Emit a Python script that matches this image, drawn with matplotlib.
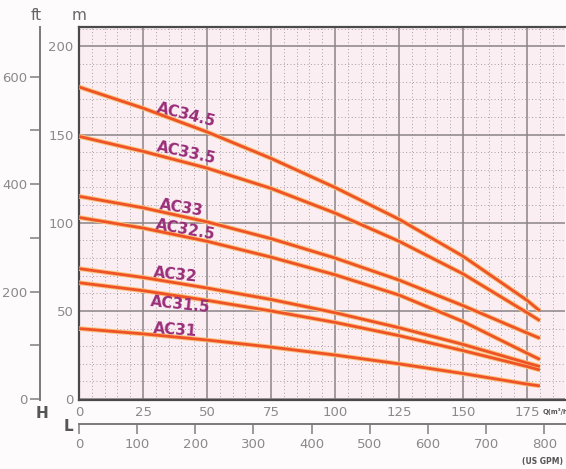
import matplotlib
matplotlib.use('Agg')
import matplotlib.pyplot as plt
from matplotlib.ticker import MultipleLocator, FixedLocator

# pump curves, flow Q (m3/h) vs head H (m)
flow = [0, 25, 50, 75, 100, 125, 150, 175, 180]
curves = {
    'AC34.5': [177, 165, 151.5, 136.5, 120, 102, 81, 56, 50],
    'AC33.5': [149, 140.5, 131, 119.5, 105.5, 89.5, 71, 49, 44.5],
    'AC33': [115, 108.5, 100.5, 91, 80, 67.5, 53, 37.5, 34.5],
    'AC32.5': [103, 97, 89.5, 80.5, 70.5, 59, 44, 26, 22.5],
    'AC32': [74, 69, 63, 56.5, 49, 40.5, 31, 20.5, 18.5],
    'AC31.5': [66, 61.5, 56, 50, 43.5, 36, 27.5, 18.5, 16.5],
    'AC31': [40, 37, 33.5, 29.5, 25, 20, 14.5, 8.5, 7.5],
}
# label position (Q, H) and angle for each curve
label_pos = {
    'AC34.5': (42, 161, -14),
    'AC33.5': (42, 139.5, -12),
    'AC33': (40, 108.5, -9),
    'AC32.5': (41.5, 96, -10),
    'AC32': (37.5, 70.5, -6),
    'AC31.5': (39.5, 53.5, -6),
    'AC31': (37.5, 39, -4),
}
m_ticks = [0, 50, 100, 150, 200]
q_ticks = [0, 25, 50, 75, 100, 125, 150, 175]
ft_ticks = [0, 200, 400, 600]
gpm_ticks = [0, 100, 200, 300, 400, 500, 600, 700, 800]

FT = 0.3048
GPM = 4.40287

fig = plt.figure(figsize=(5.66, 4.69), dpi=100)
fig.patch.set_facecolor('#fdfbfb')
ax = fig.add_axes([79/566, 1-400/469, 486/566, 373/469])
ax.set_facecolor('#faeef3')
ax.set_xlim(0, 189.8)
ax.set_ylim(-0.5, 211)

ax.xaxis.set_major_locator(FixedLocator(q_ticks))
ax.yaxis.set_major_locator(FixedLocator(m_ticks))
ax.xaxis.set_minor_locator(MultipleLocator(5))
ax.yaxis.set_minor_locator(MultipleLocator(10))
ax.grid(which='major', color='#8a8486', lw=1.1)
ax.grid(which='minor', color='#a89ea2', lw=0.7, ls=(0, (1, 2.5)))
ax.set_axisbelow(True)
ax.tick_params(which='both', length=0, colors='#8a8a8a', labelsize=9.5, pad=4)
for s in ['left', 'bottom', 'top']:
    ax.spines[s].set_color('#4a4a4a')
    ax.spines[s].set_linewidth(1.6)
ax.spines['right'].set_visible(False)

for name, h in curves.items():
    ax.plot(flow, h, color='#f8c27a', lw=3.4, solid_capstyle='butt', zorder=3)
    ax.plot(flow, h, color='#ef5226', lw=2.0, solid_capstyle='butt', zorder=4)
    qx, hy, rot = label_pos[name]
    ax.text(qx, hy, name, color='#9a2d78', fontsize=11, fontweight='bold',
            rotation=rot, ha='center', va='center', zorder=5)

# feet axis on the left
ft_ax = ax.secondary_yaxis(-0.08, functions=(lambda m: m / FT, lambda f: f * FT))
ft_ax.yaxis.set_major_locator(FixedLocator(ft_ticks))
ft_ax.yaxis.set_minor_locator(FixedLocator([100, 300, 500]))
ft_ax.tick_params(which='both', direction='out', length=7, width=1.2, colors='#8a8a8a',
                  labelsize=9.5, pad=2)
ft_ax.spines['left'].set_color('#7a7a7a')
ft_ax.spines['left'].set_linewidth(1.4)

# US GPM axis below
gpm_ax = ax.secondary_xaxis(-0.064, functions=(lambda q: q * GPM, lambda g: g / GPM))
gpm_ax.xaxis.set_major_locator(FixedLocator(gpm_ticks))
gpm_ax.tick_params(direction='out', length=7, width=1.2, colors='#8a8a8a',
                   labelsize=9.5, pad=3)
gpm_ax.spines['bottom'].set_color('#7a7a7a')
gpm_ax.spines['bottom'].set_linewidth(1.4)

fig.text(36/566, 1-15/469, 'ft', fontsize=11, color='#666666', ha='center', va='center')
fig.text(79/566, 1-15/469, 'm', fontsize=11, color='#666666', ha='center', va='center')
fig.text(42/566, 1-413/469, 'H', fontsize=11, color='#555555', fontweight='bold',
         ha='center', va='center')
fig.text(68/566, 1-426/469, 'L', fontsize=11, color='#555555', fontweight='bold',
         ha='center', va='center')
fig.text(543/566, 1-411/469, 'Q(m³/h)', fontsize=4.8, color='#555555', fontweight='bold',
         ha='left', va='center')
fig.text(563/566, 1-461/469, '(US GPM)', fontsize=5.5, color='#555555', fontweight='bold',
         ha='right', va='center')

fig.savefig('out.png', dpi=100, facecolor=fig.get_facecolor())
